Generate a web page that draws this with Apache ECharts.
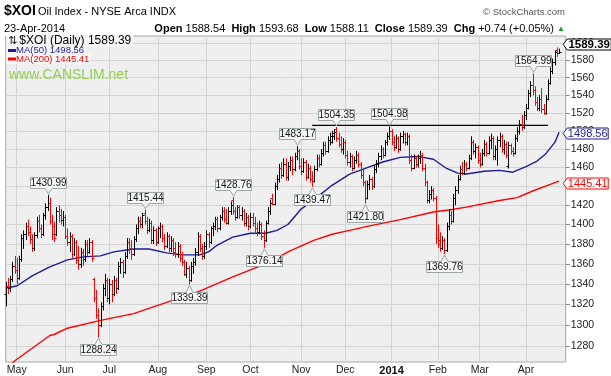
<!DOCTYPE html>
<html><head><meta charset="utf-8">
<script src="https://cdn.jsdelivr.net/npm/echarts@6/dist/echarts.min.js"></script>
<style>html,body{margin:0;padding:0;background:#fff}#c{width:611px;height:376px}</style>
</head><body><div id="c"></div>
<script>
// ---------- data ----------
const holidays = ['2013-05-27','2013-07-04','2013-09-02','2013-11-28','2013-12-25','2014-01-01','2014-01-20','2014-02-17','2014-04-18'];
const firstDay = '2013-04-24', lastDay = '2014-04-28'; // last 3 days are empty space
const yTicks = [1280,1300,1320,1340,1360,1380,1400,1420,1440,1460,1480,1500,1520,1540,1560,1580,1600];
const monthNames = ['Jan','Feb','Mar','Apr','May','Jun','Jul','Aug','Sep','Oct','Nov','Dec'];
// daily bars [open, high, low, close], index 0 = 2013-04-24
const ohlc = [
[1330,1342,1318,1338],[1338,1346,1330,1336],[1336,1348,1332,1345],[1345,1362,1342,1358],[1358,1368,1350,1354],
[1354,1366,1340,1346],[1346,1368,1344,1365],[1365,1390,1362,1386],[1386,1394,1375,1390],[1390,1402,1384,1398],
[1398,1405,1388,1392],[1392,1398,1380,1385],[1385,1390,1372,1376],[1376,1392,1373,1389],[1389,1408,1386,1404],
[1404,1410,1392,1396],[1396,1400,1386,1390],[1390,1412,1388,1410],[1410,1422,1405,1418],[1418,1430.99,1414,1422],
[1422,1428,1400,1404],[1404,1410,1384,1390],[1398,1403,1382,1386],[1390,1418,1388,1414],[1414,1420,1402,1410],
[1410,1416,1400,1405],[1405,1414,1398,1408],[1408,1410,1385,1388],[1388,1396,1378,1382],[1382,1392,1372,1388],
[1388,1390,1366,1370],[1370,1386,1368,1382],[1382,1384,1360,1364],[1364,1378,1354,1360],[1360,1376,1356,1372],
[1372,1375,1358,1365],[1365,1384,1362,1380],[1380,1384,1368,1372],[1372,1386,1370,1382],[1382,1384,1362,1366],
[1345,1346,1322,1326],[1326,1334,1306,1310],[1310,1316,1288.24,1300],[1300,1322,1298,1318],[1318,1340,1314,1336],
[1336,1350,1328,1344],[1344,1346,1322,1326],[1326,1345,1320,1340],[1340,1344,1322,1330],[1330,1348,1328,1344],
[1344,1346,1330,1336],[1336,1362,1334,1358],[1358,1366,1350,1362],[1362,1364,1346,1352],[1352,1372,1350,1368],
[1368,1386,1365,1382],[1382,1386,1370,1376],[1376,1384,1364,1370],[1370,1388,1368,1385],[1385,1400,1382,1396],
[1396,1408,1390,1404],[1404,1408,1396,1400],[1400,1412,1396,1410],[1412,1415.44,1400,1404],[1404,1408,1390,1394],
[1394,1406,1392,1402],[1402,1404,1380,1384],[1384,1398,1380,1394],[1394,1396,1378,1382],[1382,1398,1380,1396],
[1396,1402,1386,1398],[1398,1400,1382,1386],[1386,1390,1374,1378],[1378,1392,1376,1388],[1388,1390,1372,1376],
[1376,1388,1372,1384],[1384,1386,1368,1372],[1376,1382,1366,1370],[1370,1382,1366,1378],[1378,1380,1362,1366],
[1366,1372,1358,1362],[1362,1364,1348,1350],[1350,1362,1346,1356],[1356,1358,1339.39,1344],[1344,1362,1342,1358],
[1358,1366,1350,1362],[1362,1376,1358,1372],[1372,1392,1368,1388],[1388,1390,1372,1376],[1376,1380,1364,1368],
[1368,1382,1365,1378],[1378,1394,1374,1390],[1390,1392,1376,1382],[1382,1398,1380,1396],[1396,1402,1388,1398],
[1398,1408,1394,1406],[1406,1408,1392,1396],[1396,1410,1394,1408],[1408,1418,1404,1414],[1414,1418,1402,1406],
[1406,1416,1400,1402],[1402,1418,1400,1414],[1414,1424,1410,1420],[1426,1428.76,1410,1414],[1414,1418,1404,1408],
[1408,1420,1406,1418],[1418,1420,1406,1410],[1410,1418,1404,1414],[1414,1416,1398,1402],[1402,1412,1398,1408],
[1408,1410,1394,1398],[1398,1412,1396,1408],[1408,1412,1398,1402],[1402,1408,1390,1396],[1396,1402,1388,1392],
[1392,1404,1390,1400],[1400,1402,1384,1388],[1388,1394,1376.14,1384],[1384,1404,1382,1402],[1402,1418,1400,1414],
[1414,1426,1410,1422],[1428,1432,1420,1421],[1421,1444,1420,1440],[1440,1452,1436,1448],[1448,1464,1444,1460],
[1460,1466,1448,1452],[1452,1470,1450,1464],[1464,1470,1446,1450],[1450,1466,1446,1462],[1462,1472,1456,1468],
[1468,1472,1452,1458],[1458,1476,1456,1472],[1472,1483.17,1468,1478],[1478,1480,1458,1462],[1462,1470,1452,1456],
[1456,1470,1454,1466],[1466,1468,1446,1450],[1450,1464,1448,1460],[1460,1462,1444,1448],[1448,1456,1439.47,1446],
[1446,1462,1444,1458],[1458,1474,1456,1470],[1470,1474,1460,1464],[1464,1480,1462,1476],[1476,1488,1472,1484],
[1484,1488,1474,1478],[1478,1494,1476,1490],[1490,1498,1484,1494],[1488,1500,1486,1498],[1494,1502,1490,1499],
[1502,1504.35,1488,1492],[1492,1498,1482,1486],[1486,1494,1476,1480],[1480,1492,1474,1488],[1488,1490,1470,1474],
[1474,1478,1462,1466],[1466,1476,1460,1472],[1472,1474,1456,1460],[1460,1472,1458,1468],[1468,1478,1464,1474],
[1474,1476,1460,1464],[1464,1466,1448,1452],[1452,1458,1440,1444],[1444,1446,1421.80,1428],[1428,1446,1426,1442],
[1442,1452,1436,1448],[1448,1450,1436,1440],[1440,1462,1438,1458],[1458,1468,1454,1464],[1464,1476,1460,1472],
[1472,1484,1468,1480],[1480,1482,1470,1474],[1474,1490,1472,1488],[1488,1498,1484,1494],[1494,1504.98,1490,1500],
[1500,1502,1484,1488],[1488,1494,1478,1482],[1482,1496,1480,1492],[1492,1494,1476,1480],[1480,1498,1478,1494],
[1494,1500,1486,1496],[1496,1498,1484,1488],[1488,1498,1484,1494],[1494,1496,1464,1468],[1468,1474,1456,1460],
[1460,1474,1458,1470],[1470,1472,1460,1464],[1464,1474,1460,1470],[1470,1478,1464,1474],[1474,1476,1456,1460],
[1460,1464,1440,1444],[1444,1446,1422,1426],[1426,1436,1422,1432],[1432,1440,1426,1436],[1436,1438,1424,1428],
[1428,1430,1380,1386],[1386,1400,1376,1380],[1384,1392,1372,1376],[1376,1388,1374,1384],[1384,1386,1369.76,1374],
[1374,1402,1372,1398],[1398,1416,1394,1410],[1410,1414,1400,1404],[1404,1432,1402,1428],[1428,1440,1420,1436],
[1436,1452,1432,1448],[1448,1462,1446,1458],[1458,1466,1452,1454],[1454,1468,1452,1464],[1464,1466,1456,1460],
[1460,1474,1458,1470],[1470,1494,1468,1488],[1488,1490,1474,1478],[1478,1486,1470,1482],[1482,1484,1464,1468],
[1468,1476,1460,1464],[1464,1480,1462,1476],[1476,1490,1472,1486],[1486,1488,1472,1476],[1476,1494,1474,1490],
[1490,1497,1480,1492],[1492,1494,1468,1472],[1472,1484,1468,1480],[1480,1494,1462,1490],[1490,1498,1482,1494],
[1494,1496,1476,1480],[1480,1490,1474,1486],[1486,1488,1470,1474],[1462,1488,1459,1484],[1484,1486,1474,1478],
[1478,1482,1472,1476],[1476,1496,1474,1492],[1492,1504,1488,1500],[1500,1512,1496,1508],[1508,1518,1500,1504],
[1504,1522,1502,1518],[1518,1530,1512,1526],[1526,1546,1524,1542],[1542,1556,1538,1552],[1552,1564.99,1540,1546],
[1546,1550,1528,1532],[1532,1538,1522,1526],[1526,1540,1522,1536],[1536,1548,1520,1524],[1524,1530,1518,1520],
[1520,1540,1518,1536],[1536,1558,1534,1554],[1554,1572,1552,1568],[1568,1582,1564,1578],[1578,1592,1574,1590],
[1592,1595,1584,1588.65],[1588.54,1593.68,1588.11,1589.39]
];
// moving averages: [bar index, value]
const ma50 = [[0,1336],[5,1338],[12,1348],[20,1357],[28,1364],[35,1367],[43,1368],[49,1372],[58,1375],[65,1375],
[73,1371],[80,1369],[88,1369],[92,1372],[96,1379],[103,1387],[111,1391],[118,1391],[123,1394],[128,1400],[134,1416],
[141,1428],[148,1441],[156,1453],[164,1460],[171,1466],[179,1471],[187,1472],[194,1469],[200,1459],[205,1454],
[209,1453],[217,1456],[224,1457],[230,1455],[236,1461],[241,1467],[245,1475],[249,1487],[251,1498.56]];
const ma200 = [[0,1258],[4,1266],[20,1290],[22,1291],[28,1297],[43,1304.5],[58,1311],[73,1322],[88,1333],[103,1347],
[111,1354],[118,1360],[129,1373],[140,1384],[148,1390],[156,1394],[164,1398],[179,1405],[194,1413],[201,1415],
[209,1418],[224,1425],[232,1428],[239,1435],[247,1442],[251,1445.41]];
// resistance line [start index, end index, value]
const resistance = [139, 246, 1506];
// high/low annotations [bar index, value, 1=above / -1=below]
const notes = [[19,1430.99,1],[42,1288.24,-1],[63,1415.44,1],[83,1339.39,-1],[103,1428.76,1],[117,1376.14,-1],
[132,1483.17,1],[139,1439.47,-1],[150,1504.35,1],[163,1421.80,-1],[174,1504.98,1],[199,1369.76,-1],[239,1564.99,1]];
const lastClose = 1589.39, lastMA50 = 1498.56, lastMA200 = 1445.41;

// ---------- build ----------
const categories = [];
for (let d = new Date(firstDay + 'T00:00:00Z'); d <= new Date(lastDay + 'T00:00:00Z'); d.setUTCDate(d.getUTCDate() + 1)) {
  const wd = d.getUTCDay();
  if (wd === 0 || wd === 6) continue;
  const s = d.toISOString().slice(0, 10);
  if (holidays.includes(s)) continue;
  categories.push(s);
}
const isMonthStart = i => i > 0 && categories[i].slice(0, 7) !== categories[i - 1].slice(0, 7);
const L = v => Math.log10(v);
const Y_MIN = 1265.1, Y_MAX = 1608.6;
const FONT = '"Liberation Sans", Arial, sans-serif';
const lastIdx = ohlc.length - 1;

const barData = ohlc.map((b, i) => {
  const prev = i > 0 ? ohlc[i - 1][3] : b[0];
  return [i, L(b[0]), L(b[1]), L(b[2]), L(b[3]), b[3] >= prev ? 1 : 0];
});

const chart = echarts.init(document.getElementById('c'));
chart.setOption({
  animation: false,
  backgroundColor: '#ffffff',
  textStyle: { fontFamily: FONT },
  title: [
    { text: '$XOI', left: 4, top: 4, padding: 0, textStyle: { fontSize: 14, fontWeight: 'bold', color: '#000', fontFamily: FONT } },
    { text: 'Oil Index - NYSE Arca INDX', left: 38, top: 6, padding: 0, textStyle: { fontSize: 11, fontWeight: 'normal', color: '#000', fontFamily: FONT } },
    { text: '© StockCharts.com', right: 46, top: 7, padding: 0, textStyle: { fontSize: 9.5, fontWeight: 'normal', color: '#555', fontFamily: FONT } },
    { text: '23-Apr-2014', left: 4, top: 23, padding: 0, textStyle: { fontSize: 11, fontWeight: 'normal', color: '#000', fontFamily: FONT } },
    { text: '{b|Open} 1588.54  {b|High} 1593.68  {b|Low} 1588.11  {b|Close} 1589.39  {b|Chg} +0.74 (+0.05%) {g|▲}',
      right: 46, top: 23, padding: 0,
      textStyle: { fontSize: 11, fontWeight: 'normal', color: '#000', fontFamily: FONT,
        rich: { b: { fontSize: 11, fontWeight: 'bold', color: '#000', fontFamily: FONT }, g: { fontSize: 8, color: '#1aa51a' } } } },
    { text: '{d|}MA(200) 1445.41', left: 6, top: 54, padding: [0, 2], backgroundColor: '#f6f6f6',
      textStyle: { fontSize: 9.5, lineHeight: 10, fontWeight: 'normal', color: '#ff0000', fontFamily: FONT,
        rich: { d: { width: 8, height: 3, backgroundColor: '#ff0000', padding: 0 } } } },
    { text: '{d|}MA(50) 1498.56', left: 6, top: 45.5, padding: [0, 2], backgroundColor: '#f6f6f6',
      textStyle: { fontSize: 9.5, lineHeight: 10, fontWeight: 'normal', color: '#1c1c96', fontFamily: FONT,
        rich: { d: { width: 8, height: 3, backgroundColor: '#1c1c96', padding: 0 } } } },
    { text: '{i|⇅}$XOI (Daily) 1589.39', left: 6, top: 35.5, padding: [0, 2], backgroundColor: '#f6f6f6',
      textStyle: { fontSize: 12, lineHeight: 11, fontWeight: 'normal', color: '#000', fontFamily: FONT,
        rich: { i: { fontSize: 11, lineHeight: 11, fontFamily: 'DejaVu Sans', color: '#222', padding: [0, 2, 0, 0] } } } },
    { text: 'www.CANSLIM.net', left: 9, top: 68, padding: 0, textStyle: { fontSize: 14, fontWeight: 'normal', color: '#8fd14f', fontFamily: FONT } }
  ],
  grid: { left: 5.7, right: 45.3, top: 36, bottom: 11.7, show: true, backgroundColor: '#efefef', borderColor: '#a0aaaa', borderWidth: 1 },
  xAxis: {
    type: 'category', data: categories, boundaryGap: false,
    axisLine: { show: false }, axisTick: { show: false },
    axisLabel: {
      interval: (i) => isMonthStart(i), margin: 3, fontSize: 10.5, color: '#222', fontFamily: FONT,
      formatter: (v) => { const m = +v.slice(5, 7); return m === 1 ? '{y|' + v.slice(0, 4) + '}' : monthNames[m - 1]; },
      rich: { y: { fontWeight: 'bold', fontSize: 11, color: '#111', fontFamily: FONT } }
    },
    splitLine: { show: true, interval: (i) => isMonthStart(i), lineStyle: { color: '#d4d4d4', width: 1 } }
  },
  yAxis: {
    type: 'value', position: 'right', min: L(Y_MIN), max: L(Y_MAX),
    axisLine: { show: false },
    axisTick: { show: true, length: 4, lineStyle: { color: '#888' }, customValues: yTicks.map(L) },
    axisLabel: { customValues: yTicks.map(L), margin: 5, fontSize: 10.5, color: '#222', fontFamily: FONT,
      formatter: (v) => String(Math.round(Math.pow(10, v))) },
    splitLine: { show: true, lineStyle: { color: '#d4d4d4', width: 1 } }
  },
  series: [
    {
      type: 'line', name: 'MA200', data: ma200.map(p => [p[0], L(p[1])]), showSymbol: false, z: 3,
      lineStyle: { color: '#ff0000', width: 1.4 }, itemStyle: { color: '#ff0000' }
    },
    {
      type: 'line', name: 'MA50', data: ma50.map(p => [p[0], L(p[1])]), showSymbol: false, z: 3,
      lineStyle: { color: '#1c1c96', width: 1.4 }, itemStyle: { color: '#1c1c96' }
    },
    {
      type: 'line', name: 'resistance', data: [[resistance[0], L(resistance[2])], [resistance[1], L(resistance[2])]],
      showSymbol: false, z: 4, lineStyle: { color: '#000', width: 1.3 }
    },
    {
      type: 'custom', name: 'XOI', z: 5, data: barData, encode: { x: 0, y: [1, 2, 3, 4] },
      renderItem: (params, api) => {
        const i = api.value(0);
        const pH = api.coord([i, api.value(2)]), pL = api.coord([i, api.value(3)]);
        const pO = api.coord([i, api.value(1)]), pC = api.coord([i, api.value(4)]);
        const col = api.value(5) ? '#000000' : '#ff0000';
        const x = Math.round(pH[0]) + 0.5;
        const yo = Math.round(pO[1]) + 0.5, yc = Math.round(pC[1]) + 0.5;
        const st = { stroke: col, lineWidth: 1 };
        return { type: 'group', children: [
          { type: 'line', shape: { x1: x, y1: pH[1], x2: x, y2: pL[1] }, style: st },
          { type: 'line', shape: { x1: x - 2, y1: yo, x2: x, y2: yo }, style: st },
          { type: 'line', shape: { x1: x, y1: yc, x2: x + 2, y2: yc }, style: st }
        ] };
      }
    },
    {
      type: 'custom', name: 'notes', z: 6, data: notes.map(n => [n[0], L(n[1]), n[2]]), encode: { x: 0, y: 1 },
      renderItem: (params, api) => {
        const p = api.coord([api.value(0), api.value(1)]);
        const dir = api.value(2);
        const txt = notes[params.dataIndex][1].toFixed(2);
        const x = Math.round(p[0]) + 0.5, w = 36, h = 11, gap = 6, tw = 3.5;
        let pts, t, b;
        if (dir > 0) {
          const tip = p[1] - 1; b = Math.round(tip - gap) + 0.5; t = b - h;
          pts = [[x - w / 2, t], [x + w / 2, t], [x + w / 2, b], [x + tw, b], [x, tip], [x - tw, b], [x - w / 2, b]];
        } else {
          const tip = p[1] + 1; t = Math.round(tip + gap) + 0.5; b = t + h;
          pts = [[x - w / 2, t], [x - tw, t], [x, tip], [x + tw, t], [x + w / 2, t], [x + w / 2, b], [x - w / 2, b]];
        }
        return { type: 'group', children: [
          { type: 'polygon', shape: { points: pts }, style: { fill: '#f5f6f5', stroke: '#9aa5a5', lineWidth: 1 } },
          { type: 'text', style: { text: txt, x: x, y: (t + b) / 2 + 0.5, align: 'center', verticalAlign: 'middle',
            font: '10px ' + FONT, fill: '#111' } }
        ] };
      }
    },
    {
      type: 'custom', name: 'lastValues', z: 7, clip: false,
      data: [[lastIdx, L(lastClose), 0], [lastIdx, L(lastMA50), 1], [lastIdx, L(lastMA200), 2]], encode: { x: 0, y: 1 },
      renderItem: (params, api) => {
        const k = api.value(2);
        const p = api.coord([api.value(0), api.value(1)]);
        const cs = params.coordSys;
        const styles = [
          { stroke: '#000', fill: '#fff', text: lastClose.toFixed(2), font: 'bold 11.5px ' + FONT, w: 44, dy: -8 },
          { stroke: '#1c1c96', fill: '#fff', text: lastMA50.toFixed(2), font: '11px ' + FONT, w: 41, dy: 0.5 },
          { stroke: '#ff0000', fill: '#fff', text: lastMA200.toFixed(2), font: '11px ' + FONT, w: 41, dy: 1.5 }
        ];
        const s = styles[k];
        const tip = cs.x + cs.width - 2.5;
        const yc = Math.round(p[1] + s.dy) + 0.5, hh = 5.5;
        const bl = tip + 4, br = bl + s.w;
        return { type: 'group', children: [
          { type: 'polygon', shape: { points: [[tip, yc], [bl, yc - hh], [br, yc - hh], [br, yc + hh], [bl, yc + hh]] },
            style: { fill: s.fill, stroke: s.stroke, lineWidth: 1 } },
          { type: 'text', style: { text: s.text, x: (bl + br) / 2, y: yc + 0.5, align: 'center', verticalAlign: 'middle',
            font: s.font, fill: s.stroke } }
        ] };
      }
    }
  ]
});
</script>
</body></html>
